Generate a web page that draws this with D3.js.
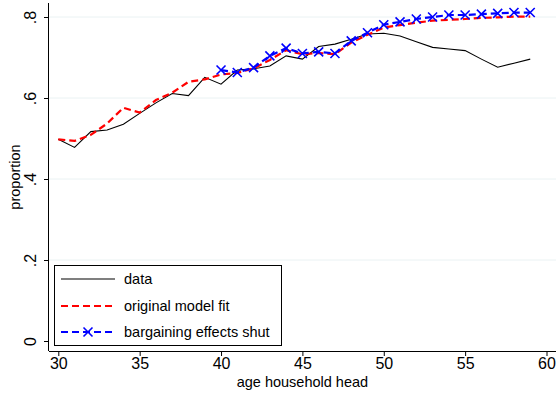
<!DOCTYPE html>
<html><head><meta charset="utf-8">
<script src="https://cdn.jsdelivr.net/npm/d3@7"></script>
<style>body{margin:0;background:#fff}svg{display:block}text{font-family:"Liberation Sans",Arial,sans-serif;fill:#000}</style>
</head><body><svg id="c" width="556" height="396"></svg>
<script>
const ages = d3.range(30, 60);
const dataVals = [0.498,0.478,0.517,0.521,0.535,0.562,0.588,0.611,0.606,0.651,0.634,0.669,0.672,0.679,0.704,0.696,0.727,0.733,0.745,0.758,0.760,0.753,0.739,0.725,0.721,0.717,0.696,0.676,0.686,0.696];
const modelVals = [0.498,0.494,0.509,0.537,0.576,0.564,0.595,0.613,0.640,0.646,0.658,0.662,0.673,0.694,0.718,0.708,0.711,0.708,0.737,0.756,0.774,0.780,0.786,0.791,0.793,0.795,0.798,0.799,0.801,0.801];
const shutAges = d3.range(40, 60);
const shutVals = [0.669,0.663,0.675,0.704,0.723,0.710,0.714,0.710,0.741,0.761,0.781,0.788,0.795,0.800,0.805,0.805,0.807,0.809,0.811,0.811];
const xTicks = [30,35,40,45,50,55,60];
const yTicks = [0,0.2,0.4,0.6,0.8];
const yTickLabels = ["0",".2",".4",".6",".8"];
const legendLabels = ["data","original model fit","bargaining effects shut"];

const svg = d3.select("#c");
const x = d3.scaleLinear().domain([30,60]).range([58.3,546.5]);
const y = d3.scaleLinear().domain([0,0.8]).range([341,17]);
const pL = 49, pB = 351, pT = 3, pR = 556;

// gridlines
svg.append("g").selectAll("line").data(yTicks.filter(d=>d>0)).join("line")
  .attr("x1",pL).attr("x2",pR).attr("y1",d=>y(d)).attr("y2",d=>y(d))
  .attr("stroke","#eaf2f3").attr("stroke-width",1);

// axes
const xAxis = d3.axisBottom(x).tickValues(xTicks).tickSize(5).tickPadding(2).tickFormat(d3.format("d"));
const gx = svg.append("g").attr("transform",`translate(0,${pB})`).call(xAxis);
gx.select(".domain").attr("d",`M${pL},0.5H${pR}`).attr("stroke","#000");
gx.selectAll("text").attr("font-size",16).attr("font-family","Liberation Sans, Arial, sans-serif").attr("fill","#000");

const yAxis = d3.axisLeft(y).tickValues(yTicks).tickSize(5).tickFormat((d,i)=>yTickLabels[i]);
const gy = svg.append("g").attr("transform",`translate(${pL},0)`).call(yAxis);
gy.select(".domain").attr("d",`M-0.5,${pT}V${pB}`).attr("stroke","#000");
gy.selectAll("text").attr("font-size",16).attr("font-family","Liberation Sans, Arial, sans-serif")
  .attr("fill","#000").attr("text-anchor","middle").attr("dy",null)
  .attr("transform","translate(-17,0) rotate(-90)").attr("x",0).attr("y",0).attr("dominant-baseline","middle");

svg.append("text").attr("x",x(45)).attr("y",387).attr("text-anchor","middle").attr("font-size",14.5).text("age household head");
svg.append("text").attr("transform",`translate(20,${(pT+pB)/2}) rotate(-90)`).attr("text-anchor","middle").attr("font-size",14.5).text("proportion");

const line = d3.line().x(d=>x(d[0])).y(d=>y(d[1]));
svg.append("path").datum(ages.map((a,i)=>[a,dataVals[i]])).attr("d",line)
  .attr("fill","none").attr("stroke","#000").attr("stroke-width",1.1);
svg.append("path").datum(ages.map((a,i)=>[a,modelVals[i]])).attr("d",line)
  .attr("fill","none").attr("stroke","#ff0000").attr("stroke-width",2.2).attr("stroke-dasharray","7,4");
const shut = shutAges.map((a,i)=>[a,shutVals[i]]);
svg.append("path").datum(shut).attr("d",line)
  .attr("fill","none").attr("stroke","#0000ff").attr("stroke-width",2.2).attr("stroke-dasharray","7,4");
const m = 4.5;
const xMark = `M${-m},${-m}L${m},${m}M${-m},${m}L${m},${-m}`;
svg.append("g").selectAll("path").data(shut).join("path")
  .attr("transform",d=>`translate(${x(d[0])},${y(d[1])})`).attr("d",xMark)
  .attr("stroke","#0000ff").attr("stroke-width",1.6).attr("fill","none");

// legend
const lg = svg.append("g");
lg.append("rect").attr("x",54.5).attr("y",265.5).attr("width",227).attr("height",80)
  .attr("fill","#fff").attr("stroke","#000").attr("stroke-width",1);
const ly = [279,306,332];
const styles = [{c:"#000",w:1.1,da:null},{c:"#ff0000",w:2.2,da:"7,4"},{c:"#0000ff",w:2.2,da:"7,4"}];
legendLabels.forEach((t,i)=>{
  lg.append("line").attr("x1",61).attr("x2",115).attr("y1",ly[i]).attr("y2",ly[i])
    .attr("stroke",styles[i].c).attr("stroke-width",styles[i].w).attr("stroke-dasharray",styles[i].da);
  if(i===2) lg.append("path").attr("transform",`translate(88,${ly[i]})`).attr("d",xMark)
    .attr("stroke","#0000ff").attr("stroke-width",1.6);
  lg.append("text").attr("x",124).attr("y",ly[i]).attr("dy","0.35em").attr("font-size",14.5).text(t);
});
</script></body></html>
